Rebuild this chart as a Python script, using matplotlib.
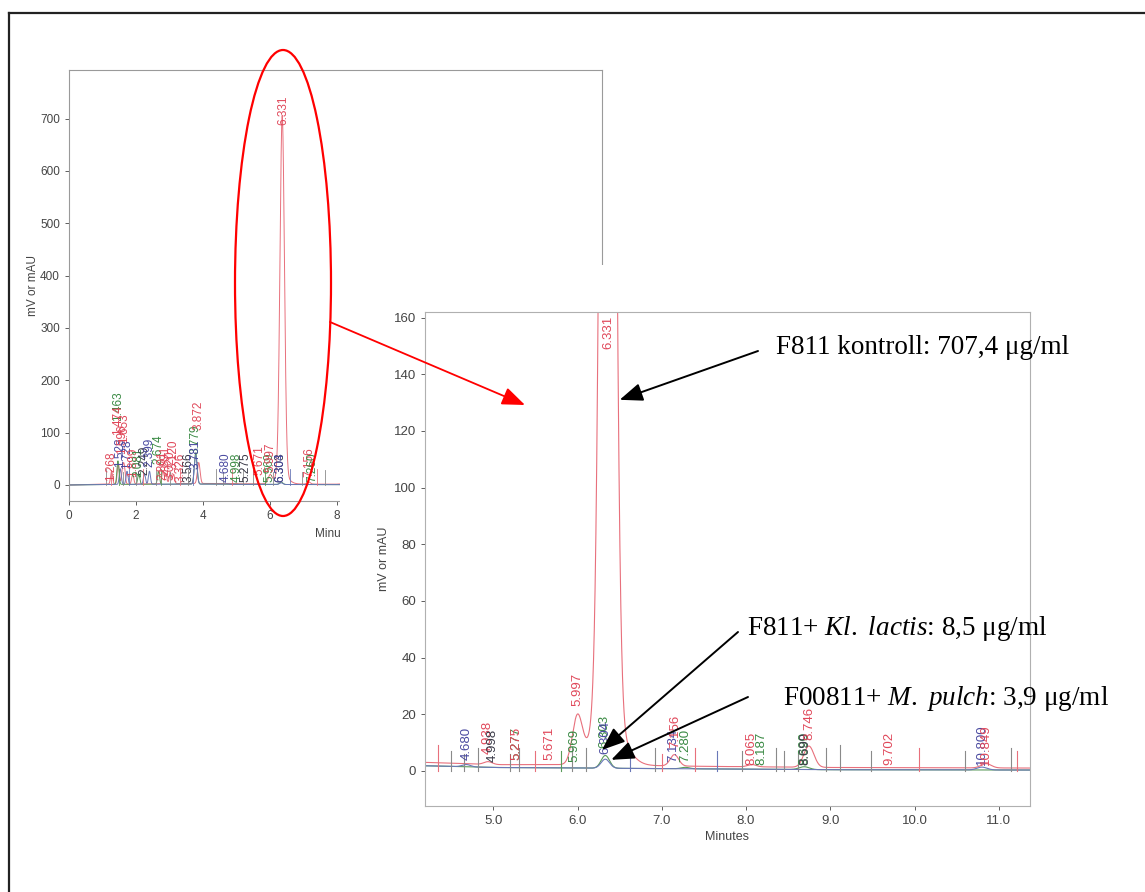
import numpy as np
import matplotlib
matplotlib.use("Agg")
from matplotlib import pyplot as plt
from matplotlib.patches import Ellipse, Rectangle
from matplotlib.lines import Line2D

plt.rcParams['font.family'] = ['Liberation Sans', 'DejaVu Sans']
plt.rcParams['mathtext.fontset'] = 'custom'
plt.rcParams['mathtext.rm'] = 'Liberation Serif'
plt.rcParams['mathtext.it'] = 'Liberation Serif:italic'

W, H = 1145, 892

# peak tables: (retention time, height mV, width)
red_peaks = [(1.27, 25, 0.03), (1.47, 40, 0.03), (1.60, 28, 0.03), (1.65, 30, 0.03),
             (1.90, 20, 0.03), (2.80, 25, 0.03), (2.89, 20, 0.03), (3.02, 22, 0.03),
             (3.12, 18, 0.03), (3.87, 40, 0.04), (4.94, 1.0, 0.05), (6.00, 17, 0.06),
             (6.20, 6, 0.08), (6.36, 690, 0.066), (6.40, 14, 0.16), (7.15, 4, 0.05),
             (8.07, 0.8, 0.05), (8.746, 7.5, 0.06), (10.85, 1.5, 0.06)]
green_peaks = [(1.46, 45, 0.03), (2.08, 20, 0.03), (2.67, 25, 0.03), (3.78, 60, 0.04),
               (6.33, 4.5, 0.05), (7.28, 0.5, 0.05), (8.69, 1.0, 0.06)]
blue_peaks = [(1.53, 30, 0.03), (1.73, 25, 0.03), (2.25, 20, 0.03), (2.40, 25, 0.03),
              (3.78, 55, 0.04), (4.68, 0.8, 0.05), (6.33, 3.2, 0.05), (10.80, 1.0, 0.06)]

# baseline levels (time, mV)
red_base_t = [0.0, 1.0, 4.2, 5.0, 6.0, 7.5, 9.0, 11.4, 16.0]
red_base_v = [0.0, 1.5, 3.0, 2.2, 2.2, 1.6, 1.2, 1.0, 1.0]
gb_base_t = [0.0, 1.0, 4.2, 5.0, 7.0, 9.0, 11.4, 16.0]
gb_base_v = [0.0, 1.0, 1.8, 1.2, 0.8, 0.4, 0.3, 0.3]

# peak labels on the full chromatogram: (time, label base mV, text, colour key)
left_labels = [(1.268, 8, '1.268', 'r'), (1.463, 122, '1.463', 'g'), (1.474, 95, '1.474', 'r'),
               (1.528, 35, '1.528', 'b'), (1.596, 60, '1.596', 'r'), (1.653, 80, '1.653', 'r'),
               (1.728, 30, '1.728', 'b'), (1.899, 15, '1.899', 'r'), (2.081, 15, '2.081', 'g'),
               (2.249, 20, '2.249', 'k'), (2.399, 35, '2.399', 'b'), (2.674, 40, '2.674', 'g'),
               (2.801, 10, '2.801', 'r'), (2.891, 20, '2.891', 'r'), (3.020, 10, '3.020', 'r'),
               (3.120, 30, '3.120', 'r'), (3.326, 5, '3.326', 'r'), (3.566, 5, '3.566', 'k'),
               (3.779, 60, '3.779', 'g'), (3.781, 30, '3.781', 'b'), (3.872, 105, '3.872', 'r'),
               (4.680, 5, '4.680', 'b'), (4.998, 5, '4.998', 'g'), (5.275, 5, '5.275', 'k'),
               (5.671, 20, '5.671', 'r'), (5.969, 5, '5.969', 'g'), (5.997, 25, '5.997', 'r'),
               (6.303, 5, '6.303', 'k'), (6.304, 5, '6.304', 'b'), (6.40, 688, '6.331', 'r'),
               (7.156, 15, '7.156', 'r'), (7.260, 5, '7.260', 'g')]

# peak labels on the zoomed chromatogram
inset_labels = [(4.680, 4, '4.680', 'b'), (4.938, 6, '4.938', 'r'), (4.998, 3, '4.998', 'k'),
                (5.277, 4, '5.277', 'g'), (5.275, 4, '5.275', 'r'), (5.671, 4, '5.671', 'r'),
                (5.969, 3, '5.969', 'g'), (5.997, 23, '5.997', 'r'), (6.32, 8, '6.303', 'g'),
                (6.33, 6, '6.304', 'b'), (6.37, 149, '6.331', 'r'), (7.134, 3, '7.134', 'b'),
                (7.156, 8, '7.156', 'r'), (7.280, 3, '7.280', 'g'), (8.065, 2, '8.065', 'r'),
                (8.187, 2, '8.187', 'g'), (8.690, 2, '8.690', 'g'), (8.699, 2, '8.699', 'k'),
                (8.746, 11, '8.746', 'r'), (9.702, 2, '9.702', 'r'), (10.800, 2, '10.800', 'b'),
                (10.849, 2, '10.849', 'r')]

# integration marks (time, top mV, colour key)
left_marks = [(1.10, 30, 'k'), (1.25, 28, 'r'), (1.50, 30, 'g'), (1.60, 25, 'k'), (1.80, 30, 'b'),
              (2.00, 25, 'k'), (2.20, 30, 'r'), (2.60, 28, 'k'), (2.75, 30, 'g'), (3.00, 25, 'k'),
              (3.30, 30, 'r'), (3.55, 28, 'k'), (3.70, 30, 'b'), (4.40, 30, 'k'), (4.60, 25, 'k'),
              (4.85, 30, 'r'), (5.20, 30, 'k'), (5.50, 28, 'k'), (5.85, 30, 'g'), (6.10, 25, 'k'),
              (6.60, 30, 'b'), (6.95, 25, 'k'), (7.40, 30, 'r'), (7.65, 28, 'k')]
inset_marks = [(4.35, 9, 'r'), (4.50, 7, 'k'), (4.65, 6, 'k'), (4.82, 8, 'k'), (5.20, 6, 'k'),
               (5.30, 8, 'k'), (5.50, 7, 'r'), (5.80, 7, 'g'), (5.93, 8, 'k'), (6.10, 8, 'k'),
               (6.62, 7, 'b'), (6.92, 8, 'k'), (7.00, 6, 'r'), (7.40, 8, 'r'), (7.65, 7, 'b'),
               (7.95, 7, 'k'), (8.35, 8, 'k'), (8.45, 7, 'k'), (8.62, 7, 'k'), (8.95, 8, 'k'),
               (9.12, 9, 'k'), (9.48, 7, 'k'), (10.05, 8, 'r'), (10.60, 7, 'k'), (11.15, 8, 'k'),
               (11.22, 7, 'r')]

text_col = {'r': '#e0485a', 'g': '#3a8a44', 'b': '#4a4aa0', 'k': '#3a3a48'}
line_col = {'r': '#e8707c', 'g': '#5a9a5a', 'b': '#6a78b8', 'k': '#8a8a8a'}


def trace(t, peaks, bt, bv):
    y = np.interp(t, bt, bv)
    for mu, h, w in peaks:
        y = y + h * np.exp(-0.5 * ((t - mu) / w) ** 2)
    return y


def px_axes(x0, y0, x1, y1):
    return [x0 / W, 1 - y1 / H, (x1 - x0) / W, (y1 - y0) / H]


t = np.linspace(0, 16, 16001)
fig = plt.figure(figsize=(W / 100, H / 100), dpi=100)

# outer frame (left and top edges only are in the picture)
fig.add_artist(Line2D([8.5 / W, 8.5 / W], [0, 1 - 12.5 / H], color='#222222', lw=1.6))
fig.add_artist(Line2D([8.5 / W, 1], [1 - 12.5 / H, 1 - 12.5 / H], color='#222222', lw=1.6))

# ---- full chromatogram ----
ax1 = fig.add_axes(px_axes(69, 70, 602, 501), zorder=0)
ax1.plot(t, trace(t, red_peaks, red_base_t, red_base_v), color=line_col['r'], lw=0.7)
ax1.plot(t, trace(t, green_peaks, gb_base_t, gb_base_v), color=line_col['g'], lw=0.7)
ax1.plot(t, trace(t, blue_peaks, gb_base_t, gb_base_v), color=line_col['b'], lw=0.7)
for x, top, c in left_marks:
    ax1.plot([x, x], [0, top], color=line_col[c], lw=0.6)
for x, yb, s, c in left_labels:
    ax1.text(x, yb, s, rotation=90, ha='center', va='bottom', fontsize=8.5,
             color=text_col[c])
ax1.set_xlim(0, 15.9)
ax1.set_ylim(-30.6, 793)
ax1.set_xticks([0, 2, 4, 6, 8, 10, 12, 14])
ax1.set_yticks(range(0, 800, 100))
ax1.set_ylabel('mV or mAU', fontsize=8.5, color='#444444', labelpad=1)
ax1.set_xlabel('Minutes', fontsize=8.5, color='#444444', labelpad=4)
ax1.tick_params(labelsize=8.5, colors='#444444', length=3, width=0.6)
for sp in ax1.spines.values():
    sp.set_color('#9a9a9a')
    sp.set_linewidth(0.8)

# white paper of the pasted zoom
fig.add_artist(Rectangle((340 / W, 1 - 850 / H), 700 / W, 585 / H, transform=fig.transFigure,
                         facecolor='white', edgecolor='none', zorder=1))

# ---- zoomed chromatogram ----
ax2 = fig.add_axes(px_axes(425, 312, 1030, 806), zorder=2)
ax2.plot(t, trace(t, red_peaks, red_base_t, red_base_v), color=line_col['r'], lw=0.8)
ax2.plot(t, trace(t, green_peaks, gb_base_t, gb_base_v), color=line_col['g'], lw=0.8)
ax2.plot(t, trace(t, blue_peaks, gb_base_t, gb_base_v), color=line_col['b'], lw=0.8)
for x, top, c in inset_marks:
    ax2.plot([x, x], [0, top], color=line_col[c], lw=0.8)
for x, yb, s, c in inset_labels:
    ax2.text(x, yb, s, rotation=90, ha='center', va='bottom', fontsize=9.5,
             color=text_col[c], clip_on=True)
ax2.set_xlim(4.19, 11.37)
ax2.set_ylim(-12.4, 162)
ax2.set_xticks([5, 6, 7, 8, 9, 10, 11])
ax2.set_xticklabels(['5.0', '6.0', '7.0', '8.0', '9.0', '10.0', '11.0'])
ax2.set_yticks(range(0, 161, 20))
ax2.set_ylabel('mV or mAU', fontsize=9, color='#444444', labelpad=3)
ax2.set_xlabel('Minutes', fontsize=9, color='#444444', labelpad=3)
ax2.tick_params(labelsize=9.5, colors='#444444', length=3, width=0.6)
for sp in ax2.spines.values():
    sp.set_color('#b0b0b0')
    sp.set_linewidth(0.8)

# red ellipse around the main peak and red arrow to the zoom
fig.add_artist(Ellipse((283 / W, 1 - 283 / H), 96 / W, 466 / H, transform=fig.transFigure,
                       facecolor='none', edgecolor='red', lw=1.6, zorder=3))
head = '-|>,head_length=1.4,head_width=0.55'
ax2.annotate('', xy=(525, H - 405), xycoords='figure pixels',
             xytext=(330, H - 322), textcoords='figure pixels', annotation_clip=False,
             arrowprops=dict(arrowstyle=head, color='red', lw=1.3, shrinkA=0, shrinkB=0))

# black arrows with concentrations
notes = [(6.50, 131, 758, 351, 776, 354, 'F811 kontroll: 707,4 μg/ml'),
         (6.29, 7.4, 738, 632, 747, 635, r'F811+ $\mathit{Kl.}$ $\mathit{lactis}$: 8,5 μg/ml'),
         (6.40, 3.9, 748, 697, 783, 705, r'F00811+ $\mathit{M.}$ $\mathit{pulch}$: 3,9 μg/ml')]
for tx, ty, ax_, ay_, lx, ly, s in notes:
    ax2.annotate('', xy=(tx, ty), xycoords='data', xytext=(ax_, H - ay_),
                 textcoords='figure pixels', annotation_clip=False,
                 arrowprops=dict(arrowstyle=head, color='black', lw=1.4, shrinkA=0, shrinkB=0))
    fig.text(lx / W, 1 - ly / H, s, fontsize=19.5, family='Liberation Serif',
             ha='left', va='baseline', color='black', zorder=4)

fig.savefig('out.png', dpi=100)
